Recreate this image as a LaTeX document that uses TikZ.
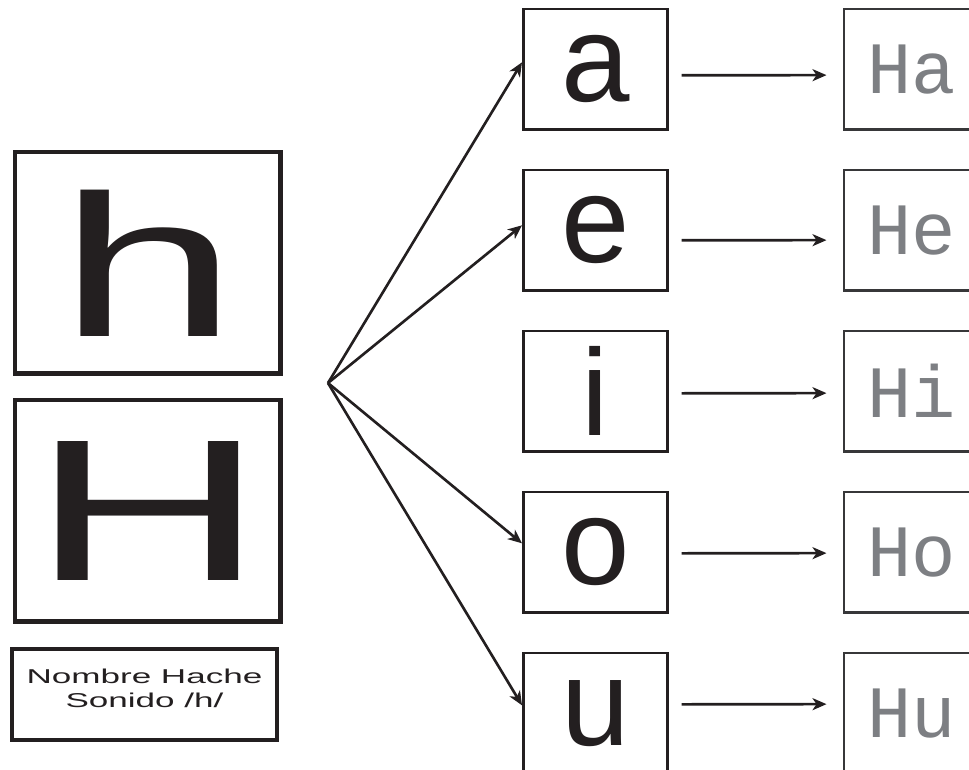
\documentclass[tikz,border=0pt]{standalone}
\usepackage{fontspec}
\setmainfont{Liberation Sans}
\newfontfamily\silabafont{Liberation Mono}
\newfontfamily\anchafont[FakeStretch=1.75]{Liberation Sans}
\newfontfamily\grandefont[FakeStretch=1.6]{Liberation Sans}
\usetikzlibrary{arrows.meta, calc}
\definecolor{tinta}{RGB}{35,31,32}
\definecolor{marco}{RGB}{55,55,57}
\definecolor{grissilaba}{RGB}{125,127,131}

\begin{document}
\begin{tikzpicture}[x=0.02cm, y=-0.02cm, tinta,
  >={Stealth[length=2.8mm, width=2.4mm, inset=0.8mm]}, line width=1.5pt,
  grande/.style={draw, line width=2.8pt, minimum width=5.32cm, minimum height=4.44cm,
    inner sep=0pt, anchor=north west, font=\grandefont\fontsize{115pt}{115pt}\selectfont},
  vocal/.style={draw, line width=1.5pt, minimum width=2.88cm, minimum height=2.42cm,
    inner sep=0pt, anchor=north west, font=\fontsize{70pt}{70pt}\selectfont},
  silaba/.style={draw=marco, line width=1.3pt, minimum width=2.72cm, minimum height=2.42cm,
    inner sep=0pt, anchor=north west, text=grissilaba,
    font=\silabafont\fontsize{42pt}{42pt}\selectfont},
  nombre/.style={draw, line width=2.2pt, minimum width=5.3cm, minimum height=1.82cm,
    inner sep=0pt},
  textonombre/.style={align=center, yshift=0.12cm, font=\anchafont\fontsize{11.4pt}{13.7pt}\selectfont}]
  \clip (0,0) rectangle (969,769);
  % la letra en minúscula y mayúscula
  \node[grande] (hmin) at (12.5,149.5) {h};
  \node[grande] (hmay) at (12.5,397.5) {H};
  \node[nombre, label={[textonombre]center:{Nombre Hache\\Sonido /h/}}] (nombre) at (144.5,694.5) {};
  % vocales y sílabas
  \foreach \v [count=\k from 0] in {a,e,i,o,u} {
    \node[vocal] (v\v) at (522,7.5+161*\k) {\v};
    \node[silaba] (s\v) at (842.5,7.5+161*\k) {H\v};
  }
  % abanico de flechas
  \coordinate (abanico) at (328,383);
  \foreach \v/\d in {a/0.14, e/0.10, o/0.18, u/0.16}
    \draw[->] (abanico) -- ([yshift=\d cm]v\v.west);
  \foreach \v/\d in {a/-0.12, e/-0.2, i/-0.04, o/-0.02, u/0.18}
    \draw[->] ([xshift=0.26cm, yshift=\d cm]v\v.east) -- ([xshift=-0.32cm, yshift=\d cm]s\v.west);
\end{tikzpicture}
\end{document}
